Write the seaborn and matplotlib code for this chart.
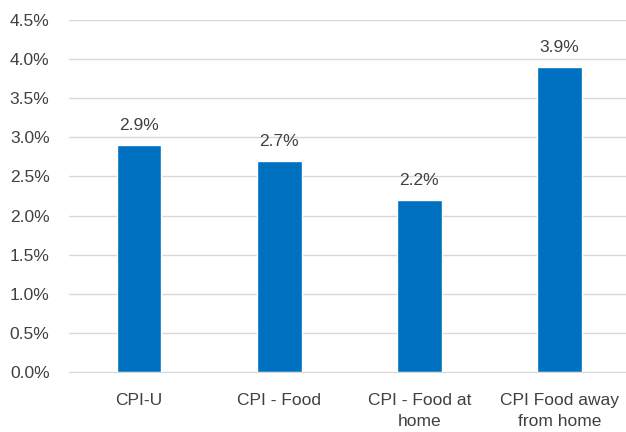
import matplotlib
matplotlib.use("Agg")
import matplotlib.pyplot as plt
import seaborn as sns
import pandas as pd
from matplotlib.ticker import FuncFormatter

categories = ["CPI-U", "CPI - Food", "CPI - Food at\nhome", "CPI Food away\nfrom home"]
values = [2.9, 2.7, 2.2, 3.9]
yticks = [0.0, 0.5, 1.0, 1.5, 2.0, 2.5, 3.0, 3.5, 4.0, 4.5]

sns.set_style("white")
plt.rcParams['font.family'] = ['Liberation Sans', 'DejaVu Sans']

df = pd.DataFrame({"cat": categories, "val": values})

fig = plt.figure(figsize=(6.26, 4.32), dpi=100)
ax = fig.add_axes([69/626, 60/432, (626-69)/626, 352/432])
sns.barplot(data=df, x="cat", y="val", color="#0070C0", saturation=1, width=0.32, ax=ax)
ax.set_xlim(-0.5, 3.475)
ax.set_ylim(0, 4.5)
ax.set_yticks(yticks)
ax.yaxis.set_major_formatter(FuncFormatter(lambda v, p: f"{v:.1f}%"))
ax.grid(axis="y", color="#D9D9D9", linewidth=1)
ax.set_axisbelow(True)
for s in ["top", "right", "left"]:
    ax.spines[s].set_visible(False)
ax.spines["bottom"].set_color("#D9D9D9")
ax.tick_params(axis="both", length=0, labelsize=12.5, colors="#404040")
ax.tick_params(axis="y", pad=14)
ax.tick_params(axis="x", pad=15)
for lbl in ax.get_xticklabels():
    lbl.set_linespacing(1.5)
ax.set_xlabel("")
ax.set_ylabel("")
for i, v in enumerate(values):
    ax.text(i, v + 0.15, f"{v:.1f}%", ha="center", va="bottom", fontsize=12.5, color="#404040")
fig.savefig("out.png", dpi=100)
